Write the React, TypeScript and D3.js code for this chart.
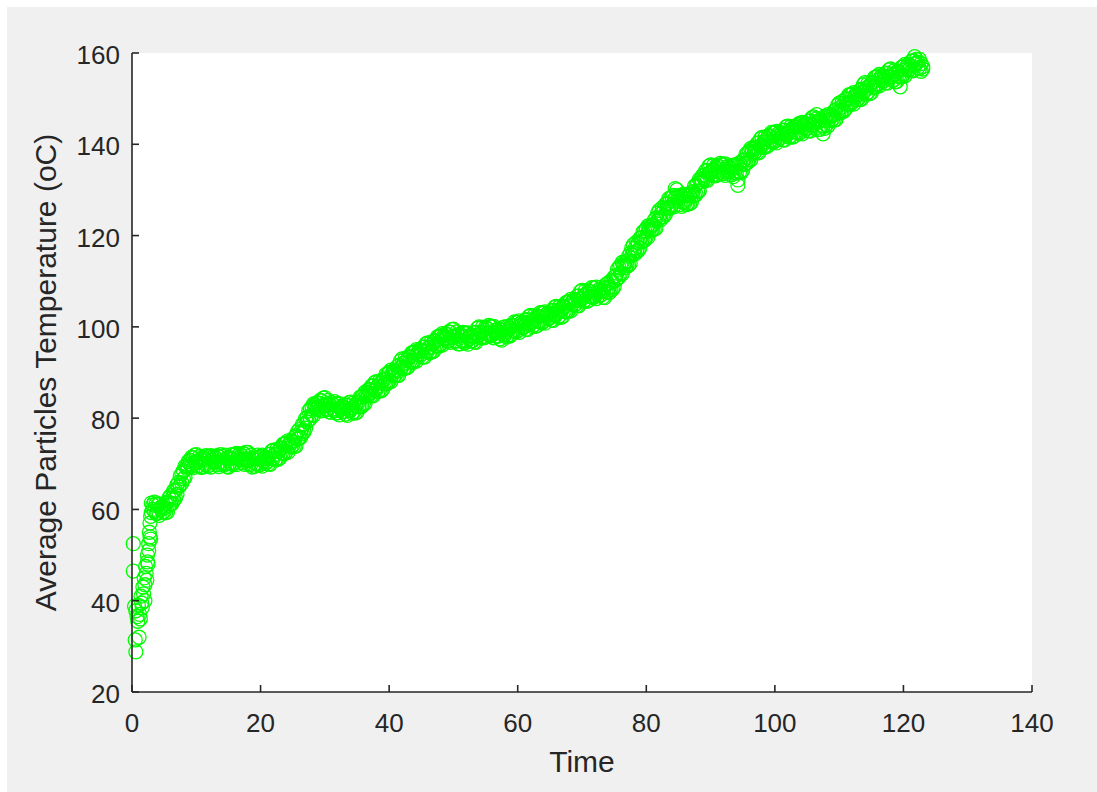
import React from "react";
import * as d3 from "d3";

// Start-up transient: first readings while the particles heat up
const warmupTime = [
  0.2, 0.2, 0.4, 0.6, 0.5, 0.6, 0.8, 0.9, 1.0, 1.1, 1.2, 1.3, 1.4, 1.5, 1.6, 1.7, 1.8,
  1.9, 2.0, 2.0, 2.1, 2.2, 2.3, 2.4, 2.4, 2.5, 2.6, 2.6, 2.7, 2.8, 2.8, 2.9, 2.9,
];
const warmupTemp = [
  52.5, 46.5, 38.8, 37.8, 31.4, 28.8, 36.5, 35.5, 39.0, 32.0, 37.0, 36.0, 41.0, 39.5, 38.5, 43.0, 41.5,
  45.0, 40.0, 43.5, 47.5, 46.0, 44.5, 50.0, 48.5, 48.0, 52.5, 51.0, 55.0, 54.0, 57.0, 53.5, 58.5,
];

// Main run, sampled every quarter time unit
const runTime = [
  3, 3.25, 3.5, 3.75, 4, 4.25, 4.5, 4.75, 5, 5.25, 5.5, 5.75, 6, 6.25, 6.5, 6.75, 7, 7.25, 7.5, 7.75,
  8, 8.25, 8.5, 8.75, 9, 9.25, 9.5, 9.75, 10, 10.25, 10.5, 10.75, 11, 11.25, 11.5, 11.75, 12, 12.25, 12.5, 12.75,
  13, 13.25, 13.5, 13.75, 14, 14.25, 14.5, 14.75, 15, 15.25, 15.5, 15.75, 16, 16.25, 16.5, 16.75, 17, 17.25, 17.5, 17.75,
  18, 18.25, 18.5, 18.75, 19, 19.25, 19.5, 19.75, 20, 20.25, 20.5, 20.75, 21, 21.25, 21.5, 21.75, 22, 22.25, 22.5, 22.75,
  23, 23.25, 23.5, 23.75, 24, 24.25, 24.5, 24.75, 25, 25.25, 25.5, 25.75, 26, 26.25, 26.5, 26.75, 27, 27.25, 27.5, 27.75,
  28, 28.25, 28.5, 28.75, 29, 29.25, 29.5, 29.75, 30, 30.25, 30.5, 30.75, 31, 31.25, 31.5, 31.75, 32, 32.25, 32.5, 32.75,
  33, 33.25, 33.5, 33.75, 34, 34.25, 34.5, 34.75, 35, 35.25, 35.5, 35.75, 36, 36.25, 36.5, 36.75, 37, 37.25, 37.5, 37.75,
  38, 38.25, 38.5, 38.75, 39, 39.25, 39.5, 39.75, 40, 40.25, 40.5, 40.75, 41, 41.25, 41.5, 41.75, 42, 42.25, 42.5, 42.75,
  43, 43.25, 43.5, 43.75, 44, 44.25, 44.5, 44.75, 45, 45.25, 45.5, 45.75, 46, 46.25, 46.5, 46.75, 47, 47.25, 47.5, 47.75,
  48, 48.25, 48.5, 48.75, 49, 49.25, 49.5, 49.75, 50, 50.25, 50.5, 50.75, 51, 51.25, 51.5, 51.75, 52, 52.25, 52.5, 52.75,
  53, 53.25, 53.5, 53.75, 54, 54.25, 54.5, 54.75, 55, 55.25, 55.5, 55.75, 56, 56.25, 56.5, 56.75, 57, 57.25, 57.5, 57.75,
  58, 58.25, 58.5, 58.75, 59, 59.25, 59.5, 59.75, 60, 60.25, 60.5, 60.75, 61, 61.25, 61.5, 61.75, 62, 62.25, 62.5, 62.75,
  63, 63.25, 63.5, 63.75, 64, 64.25, 64.5, 64.75, 65, 65.25, 65.5, 65.75, 66, 66.25, 66.5, 66.75, 67, 67.25, 67.5, 67.75,
  68, 68.25, 68.5, 68.75, 69, 69.25, 69.5, 69.75, 70, 70.25, 70.5, 70.75, 71, 71.25, 71.5, 71.75, 72, 72.25, 72.5, 72.75,
  73, 73.25, 73.5, 73.75, 74, 74.25, 74.5, 74.75, 75, 75.25, 75.5, 75.75, 76, 76.25, 76.5, 76.75, 77, 77.25, 77.5, 77.75,
  78, 78.25, 78.5, 78.75, 79, 79.25, 79.5, 79.75, 80, 80.25, 80.5, 80.75, 81, 81.25, 81.5, 81.75, 82, 82.25, 82.5, 82.75,
  83, 83.25, 83.5, 83.75, 84, 84.25, 84.5, 84.75, 85, 85.25, 85.5, 85.75, 86, 86.25, 86.5, 86.75, 87, 87.25, 87.5, 87.75,
  88, 88.25, 88.5, 88.75, 89, 89.25, 89.5, 89.75, 90, 90.25, 90.5, 90.75, 91, 91.25, 91.5, 91.75, 92, 92.25, 92.5, 92.75,
  93, 93.25, 93.5, 93.75, 94, 94.25, 94.5, 94.75, 95, 95.25, 95.5, 95.75, 96, 96.25, 96.5, 96.75, 97, 97.25, 97.5, 97.75,
  98, 98.25, 98.5, 98.75, 99, 99.25, 99.5, 99.75, 100, 100.25, 100.5, 100.75, 101, 101.25, 101.5, 101.75, 102, 102.25, 102.5, 102.75,
  103, 103.25, 103.5, 103.75, 104, 104.25, 104.5, 104.75, 105, 105.25, 105.5, 105.75, 106, 106.25, 106.5, 106.75, 107, 107.25, 107.5, 107.75,
  108, 108.25, 108.5, 108.75, 109, 109.25, 109.5, 109.75, 110, 110.25, 110.5, 110.75, 111, 111.25, 111.5, 111.75, 112, 112.25, 112.5, 112.75,
  113, 113.25, 113.5, 113.75, 114, 114.25, 114.5, 114.75, 115, 115.25, 115.5, 115.75, 116, 116.25, 116.5, 116.75, 117, 117.25, 117.5, 117.75,
  118, 118.25, 118.5, 118.75, 119, 119.25, 119.5, 119.75, 120, 120.25, 120.5, 120.75, 121, 121.25, 121.5, 121.75, 122, 122.25, 122.5, 122.75,
  123,
];

// Two readings per sample time (probe A and probe B)
const probeA = [
  61.4, 60.0, 61.6, 59.1, 59.2, 61.2, 60.0, 60.7, 60.3, 59.3, 61.6, 62.5, 63.0, 62.5, 62.1, 64.2, 65.4, 64.9, 67.3, 65.8,
  66.7, 69.5, 69.0, 70.5, 70.8, 69.4, 71.3, 71.9, 72.0, 70.7, 69.6, 70.9, 71.4, 70.1, 71.8, 69.5, 69.7, 71.8, 70.8, 71.6,
  71.3, 69.8, 71.6, 72.0, 71.7, 70.3, 69.9, 71.2, 71.4, 70.2, 72.0, 69.8, 70.2, 72.3, 71.3, 72.1, 71.8, 70.3, 72.1, 72.5,
  72.5, 71.1, 69.9, 71.0, 71.2, 70.0, 71.9, 69.7, 69.9, 71.9, 70.6, 71.5, 71.3, 70.0, 72.1, 72.8, 73.0, 72.0, 71.1, 72.7,
  73.4, 72.4, 74.3, 72.3, 72.7, 75.0, 74.0, 75.0, 74.8, 73.8, 76.1, 77.0, 77.5, 77.0, 76.6, 78.7, 79.9, 79.2, 81.6, 79.9,
  80.7, 83.1, 82.3, 83.3, 83.3, 81.9, 83.8, 84.4, 84.5, 83.1, 81.9, 83.0, 83.4, 82.0, 83.6, 81.1, 81.2, 83.2, 82.0, 82.7,
  82.3, 80.9, 82.8, 83.4, 83.5, 82.3, 81.4, 82.8, 83.4, 82.5, 84.6, 82.6, 83.2, 85.7, 85.0, 86.2, 86.3, 85.0, 87.1, 87.8,
  88.0, 87.0, 86.1, 87.7, 88.4, 87.5, 89.6, 87.6, 88.2, 90.5, 89.5, 90.5, 90.3, 89.3, 91.6, 92.5, 93.0, 92.0, 91.1, 92.7,
  93.4, 92.4, 94.3, 92.3, 92.7, 95.0, 94.0, 95.0, 94.8, 93.5, 95.6, 96.3, 96.5, 95.5, 94.6, 96.2, 96.9, 95.9, 97.8, 95.8,
  96.2, 98.5, 97.5, 98.5, 98.3, 96.9, 98.8, 99.4, 99.5, 98.1, 96.9, 98.0, 98.4, 97.1, 98.8, 96.5, 96.7, 98.7, 97.5, 98.2,
  97.8, 96.7, 98.8, 99.7, 100.0, 98.8, 97.9, 99.3, 99.9, 98.6, 100.3, 98.0, 98.2, 100.1, 98.8, 99.3, 98.8, 97.4, 99.3, 99.9,
  100.0, 99.0, 98.1, 99.7, 100.4, 99.2, 101.1, 98.9, 99.2, 101.3, 100.3, 101.1, 100.8, 99.5, 101.6, 102.3, 102.5, 101.3, 100.4, 101.8,
  102.4, 101.2, 103.1, 100.9, 101.2, 103.3, 102.3, 103.1, 102.8, 101.5, 103.6, 104.3, 104.5, 103.3, 102.4, 103.8, 104.4, 103.4, 105.3, 103.3,
  103.7, 106.0, 105.0, 106.0, 105.8, 104.7, 106.8, 107.7, 108.0, 106.8, 105.9, 107.3, 107.9, 106.7, 108.6, 106.4, 106.7, 108.7, 107.5, 108.2,
  107.8, 106.5, 108.6, 109.3, 109.5, 108.7, 108.1, 109.9, 110.9, 110.2, 112.6, 110.9, 111.7, 114.1, 113.3, 114.3, 114.3, 113.5, 116.1, 117.3,
  118.0, 117.2, 116.6, 118.4, 119.4, 118.6, 120.8, 119.0, 119.7, 122.1, 121.3, 122.3, 122.3, 121.4, 123.8, 124.9, 125.5, 124.7, 124.1, 125.9,
  126.9, 126.0, 128.1, 126.1, 126.7, 128.8, 130.3, 128.6, 128.3, 126.8, 128.6, 129.0, 129.0, 128.0, 127.1, 128.7, 129.4, 128.6, 130.8, 129.0,
  129.7, 132.3, 131.8, 133.1, 133.3, 132.2, 134.3, 135.2, 135.5, 134.3, 133.4, 134.8, 135.4, 134.1, 135.8, 133.5, 133.7, 135.7, 134.5, 135.2,
  134.8, 133.3, 135.1, 135.5, 135.5, 131.0, 133.9, 135.5, 136.4, 135.6, 137.8, 136.0, 136.7, 139.1, 138.3, 139.3, 139.3, 138.2, 140.3, 141.2,
  141.5, 140.5, 139.6, 141.2, 141.9, 140.7, 142.6, 140.4, 140.7, 142.8, 141.8, 142.6, 142.3, 141.0, 143.1, 143.8, 144.0, 142.8, 141.9, 143.3,
  143.9, 142.7, 144.1, 142.4, 142.7, 144.8, 143.8, 144.6, 144.3, 143.0, 145.1, 145.8, 146.0, 144.7, 146.5, 144.9, 145.4, 144.1, 142.3, 143.5,
  144.2, 146.5, 145.5, 146.5, 146.3, 145.3, 147.6, 148.5, 149.0, 148.1, 147.4, 149.0, 149.9, 148.9, 150.8, 148.8, 149.2, 151.3, 150.3, 151.1,
  150.8, 149.8, 152.1, 153.0, 153.5, 152.3, 151.4, 152.8, 153.4, 152.5, 154.6, 152.6, 153.2, 155.3, 154.3, 155.1, 154.8, 153.5, 155.6, 156.3,
  156.5, 155.2, 154.1, 155.4, 155.9, 154.9, 152.6, 154.8, 155.2, 157.5, 156.5, 157.5, 157.3, 156.2, 158.3, 159.2, 158.6, 158.0, 156.6, 157.7,
  157.0,
];
const probeB = [
  59.3, 61.0, 59.6, 61.2, 61.0, 58.7, 60.5, 59.4, 59.5, 61.3, 59.4, 60.9, 61.2, 61.3, 64.1, 62.5, 63.3, 65.9, 65.3, 67.9,
  68.5, 67.0, 69.5, 69.2, 70.0, 71.4, 69.1, 70.3, 70.2, 69.5, 71.6, 69.2, 69.3, 71.1, 69.8, 71.6, 71.5, 69.3, 71.3, 70.3,
  70.5, 71.8, 69.4, 70.4, 70.0, 69.8, 71.9, 69.4, 69.3, 71.2, 70.0, 71.9, 72.0, 69.8, 71.8, 70.8, 71.0, 72.3, 69.9, 70.9,
  70.7, 69.9, 71.9, 69.3, 69.5, 71.3, 70.0, 71.4, 71.6, 69.5, 71.1, 70.1, 70.5, 72.0, 69.9, 71.2, 71.2, 70.8, 73.1, 71.0,
  71.3, 73.4, 72.3, 74.4, 74.5, 72.5, 74.5, 73.7, 74.0, 75.8, 73.9, 75.4, 75.7, 75.8, 78.6, 77.0, 77.8, 80.2, 79.6, 82.0,
  82.5, 80.6, 82.8, 82.0, 82.5, 83.9, 81.6, 82.8, 82.7, 81.9, 83.9, 81.3, 81.3, 83.0, 81.6, 83.2, 83.0, 80.7, 82.5, 81.4,
  81.5, 82.9, 80.6, 81.8, 81.7, 81.1, 83.4, 81.1, 81.3, 83.5, 82.6, 84.7, 85.0, 83.2, 85.5, 84.9, 85.5, 87.0, 84.9, 86.2,
  86.2, 85.8, 88.1, 86.0, 86.3, 88.5, 87.6, 89.7, 90.0, 88.0, 90.0, 89.2, 89.5, 91.3, 89.4, 90.9, 91.2, 90.8, 93.1, 91.0,
  91.3, 93.4, 92.3, 94.4, 94.5, 92.5, 94.5, 93.7, 94.0, 95.5, 93.4, 94.7, 94.7, 94.3, 96.6, 94.5, 94.8, 96.9, 95.8, 97.9,
  98.0, 96.0, 98.0, 97.2, 97.5, 98.9, 96.6, 97.8, 97.7, 96.9, 98.9, 96.3, 96.3, 98.1, 96.8, 98.6, 98.5, 96.2, 98.0, 96.9,
  97.0, 98.7, 96.6, 98.1, 98.2, 97.6, 99.9, 97.6, 97.8, 99.6, 98.3, 100.1, 100.0, 97.6, 99.3, 98.0, 98.0, 99.4, 97.1, 98.3,
  98.2, 97.8, 100.1, 98.0, 98.3, 100.2, 99.1, 101.0, 101.0, 98.8, 100.8, 99.8, 100.0, 101.5, 99.4, 100.7, 100.7, 100.1, 102.4, 100.1,
  100.3, 102.2, 101.1, 103.0, 103.0, 100.8, 102.8, 101.8, 102.0, 103.5, 101.4, 102.7, 102.7, 102.1, 104.4, 102.1, 102.3, 104.4, 103.3, 105.4,
  105.5, 103.5, 105.5, 104.7, 105.0, 106.7, 104.6, 106.1, 106.2, 105.6, 107.9, 105.6, 105.8, 107.7, 106.6, 108.5, 108.5, 106.2, 108.0, 106.9,
  107.0, 108.5, 106.4, 107.7, 107.7, 107.5, 110.1, 108.2, 108.8, 111.2, 110.6, 113.0, 113.5, 111.6, 113.8, 113.0, 113.5, 115.5, 113.9, 115.7,
  116.2, 116.0, 118.6, 116.7, 117.3, 119.6, 118.8, 121.1, 121.5, 119.6, 121.8, 121.0, 121.5, 123.4, 121.6, 123.3, 123.7, 123.5, 126.1, 124.2,
  124.8, 127.0, 126.1, 128.2, 128.5, 126.3, 128.3, 130.0, 127.5, 128.8, 126.4, 127.4, 127.2, 126.8, 129.1, 127.0, 127.3, 129.6, 128.8, 131.1,
  131.5, 129.8, 132.3, 131.8, 132.5, 134.2, 132.1, 133.6, 133.7, 133.1, 135.4, 133.1, 133.3, 135.1, 133.8, 135.6, 135.5, 133.2, 135.0, 133.9,
  134.0, 135.3, 132.9, 133.9, 133.7, 132.2, 135.9, 133.8, 134.3, 136.6, 135.8, 138.1, 138.5, 136.6, 138.8, 138.0, 138.5, 140.2, 138.1, 139.6,
  139.7, 139.3, 141.6, 139.5, 139.8, 141.7, 140.6, 142.5, 142.5, 140.3, 142.3, 141.3, 141.5, 143.0, 140.9, 142.2, 142.2, 141.6, 143.9, 141.6,
  141.8, 143.7, 142.6, 144.5, 144.5, 142.3, 144.3, 143.3, 143.5, 145.0, 142.9, 144.2, 144.2, 143.5, 145.6, 143.2, 143.3, 145.3, 144.0, 146.1,
  146.0, 144.0, 146.0, 145.2, 145.5, 147.3, 145.4, 146.9, 147.2, 146.9, 149.4, 147.3, 147.8, 149.9, 148.8, 150.9, 151.0, 148.8, 150.8, 149.8,
  150.0, 151.8, 149.9, 151.4, 151.7, 151.1, 153.4, 151.1, 151.3, 153.5, 152.6, 154.7, 155.0, 152.8, 154.8, 153.8, 154.0, 155.5, 153.4, 154.7,
  154.7, 154.0, 156.1, 153.7, 153.8, 155.9, 154.8, 156.9, 157.0, 155.0, 157.0, 156.2, 156.5, 158.2, 156.1, 157.6, 157.7, 156.8, 158.6, 156.0,
  156.5,
];

const xTicks = [0, 20, 40, 60, 80, 100, 120, 140];
const yTicks = [20, 40, 60, 80, 100, 120, 140, 160];

const W = 1097;
const H = 792;
const plot = { left: 132, right: 1032, top: 53, bottom: 692 };
const axisColor = "#262626";
const font = "'Liberation Sans', Arial, Helvetica, sans-serif";
const tickSize = 26;
const labelSize = 30;

export default function App() {
  const x = d3.scaleLinear().domain([0, 140]).range([plot.left, plot.right]);
  const y = d3.scaleLinear().domain([20, 160]).range([plot.bottom, plot.top]);

  const points = [
    ...warmupTime.map((t, i) => ({ t, v: warmupTemp[i] })),
    ...runTime.map((t, i) => ({ t, v: probeA[i] })),
    ...runTime.map((t, i) => ({ t, v: probeB[i] })),
  ];

  const tickLen = 7;

  return (
    <svg
      width={W}
      height={H}
      style={{ position: "absolute", left: 0, top: 0, display: "block" }}
      fontFamily={font}
    >
      <rect x={0} y={0} width={W} height={H} fill="#ffffff" />
      <rect x={7} y={7} width={W - 7} height={H - 7} fill="#f0f0f0" />
      <rect
        x={plot.left}
        y={plot.top}
        width={plot.right - plot.left}
        height={plot.bottom - plot.top}
        fill="#ffffff"
      />

      {/* scatter markers */}
      <g fill="none" stroke="#00ff00" strokeWidth={1.3}>
        {points.map((p, i) => (
          <circle key={i} cx={x(p.t)} cy={y(p.v)} r={7} />
        ))}
      </g>

      {/* axes */}
      <g stroke={axisColor} strokeWidth={1.6} fill="none">
        <line x1={plot.left} y1={plot.bottom} x2={plot.right} y2={plot.bottom} />
        <line x1={plot.left} y1={plot.top} x2={plot.left} y2={plot.bottom} />
        {xTicks.map((t) => (
          <line key={"xt" + t} x1={x(t)} y1={plot.bottom} x2={x(t)} y2={plot.bottom - tickLen} />
        ))}
        {yTicks.map((t) => (
          <line key={"yt" + t} x1={plot.left} y1={y(t)} x2={plot.left + tickLen} y2={y(t)} />
        ))}
      </g>

      <g fill={axisColor} fontSize={tickSize}>
        {xTicks.map((t) => (
          <text key={"xl" + t} x={x(t)} y={plot.bottom + 40} textAnchor="middle">
            {t}
          </text>
        ))}
        {yTicks.map((t) => (
          <text key={"yl" + t} x={plot.left - 12} y={y(t) + 11} textAnchor="end">
            {t}
          </text>
        ))}
      </g>

      <text
        x={(plot.left + plot.right) / 2}
        y={772}
        textAnchor="middle"
        fontSize={labelSize}
        fill={axisColor}
      >
        Time
      </text>
      <text
        transform={`translate(56, ${(plot.top + plot.bottom) / 2}) rotate(-90)`}
        textAnchor="middle"
        fontSize={labelSize}
        fill={axisColor}
      >
        Average Particles Temperature (oC)
      </text>
    </svg>
  );
}
